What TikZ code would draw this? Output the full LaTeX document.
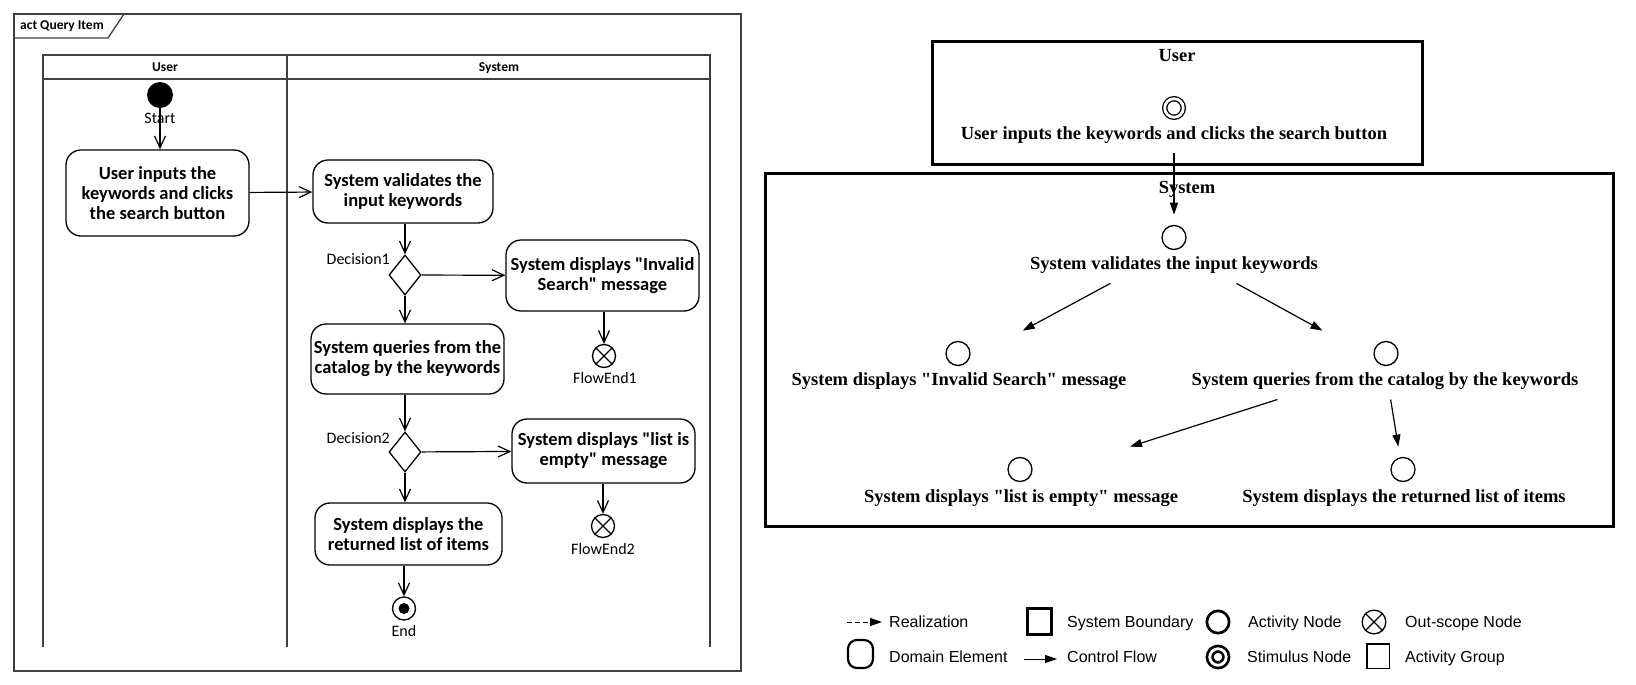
\documentclass[tikz,border=0pt]{standalone}
\usepackage{fontspec}
\usepackage{tikz}
\usetikzlibrary{%
    arrows.meta,%
    shapes.geometric,%
    fit%
}
\newfontfamily\calfont{Carlito}
\newfontfamily\timesfont{Liberation Serif}
\newfontfamily\arialfont{Liberation Sans}
\definecolor{lanegray}{rgb}{0.25,0.25,0.25}

\begin{document}
\begin{tikzpicture}[
  x=1pt, y=-1pt,
  % activity diagram
  lane/.style={draw=lanegray, line width=1.8pt},
  header/.style={font={\calfont\bfseries\fontsize{13.5}{15}\selectfont}, inner sep=0pt, anchor=base},
  action/.style={draw, rounded corners=15pt, line width=1.3pt, align=center,
    font={\calfont\bfseries\fontsize{18.5}{20}\selectfont}, inner sep=0pt},
  tag/.style={font={\calfont\fontsize{16}{18}\selectfont}, inner sep=0pt, anchor=base},
  decision/.style={draw, diamond, line width=1.3pt, minimum width=32pt,
    minimum height=40pt, inner sep=0pt},
  flowend/.style={draw, circle, line width=1.3pt, minimum size=23pt, inner sep=0pt},
  flow/.style={-{Straight Barb[length=12pt,width=11pt]}, line width=1.2pt},
  % activity model
  activity/.style={draw, circle, line width=1.3pt, minimum size=24pt, inner sep=0pt},
  stimulus/.style={activity, minimum size=18.6pt, double, double distance=2.8pt},
  caption/.style={font={\timesfont\bfseries\fontsize{18.5}{20}\selectfont},
    inner sep=0pt, anchor=base},
  group/.style={inner sep=10pt},
  boundary/.style={draw, line width=3pt},
  ctrl/.style={-{Triangle[length=12pt,width=8pt]}, line width=1.2pt},
  % legend
  legend/.style={font={\arialfont\fontsize{16}{18}\selectfont}, inner sep=0pt,
    anchor=base west},
  ]
  \useasboundingbox (0,0) rectangle (1636,685);

  % Frame
  \draw[lane] (14,14) rectangle (741,671);
  \draw[lane, line width=1.3pt] (14,38) -- (108,38) -- (124,14);
  \node[header, anchor=base west] (title) at (20,29.5) {act Query Item};
  % Swimlanes
  \draw[lane] (43,647) -- (43,55) -- (710,55) -- (710,647);
  \draw[lane] (43,79) -- (710,79);
  \draw[lane] (287,55) -- (287,647);
  \node[header] (hu) at (165,71) {User};
  \node[header] (hs) at (499,71) {System};

  % Actions
  \node[circle, fill, minimum size=26pt, inner sep=0pt] (start) at (160,95) {};
  \node[tag] (lstart) at (160,123) {Start};
  \node[action, minimum width=183pt, minimum height=86pt] (a1) at (157.5,193)
    {User inputs the\\keywords and clicks\\the search button};
  \node[action, minimum width=180pt, minimum height=63pt] (a2) at (403,191.5)
    {System validates the\\input keywords};
  \node[decision] (d1) at (405,275) {};
  \node[tag, anchor=base east] (ld1) at (390,264) {Decision1};
  \node[action, minimum width=193pt, minimum height=71pt] (a3) at (602.5,275.5)
    {System displays "Invalid\\Search" message};
  \node[flowend] (fe1) at (604,356) {};
  \node[tag] (lfe1) at (605,383) {FlowEnd1};
  \node[action, minimum width=193pt, minimum height=70pt] (a4) at (407.5,359)
    {System queries from the\\catalog by the keywords};
  \node[decision] (d2) at (405,452) {};
  \node[tag, anchor=base east] (ld2) at (390,443) {Decision2};
  \node[action, minimum width=183pt, minimum height=64pt] (a5) at (603.5,451)
    {System displays "list is\\empty" message};
  \node[flowend] (fe2) at (603,526) {};
  \node[tag] (lfe2) at (603,554) {FlowEnd2};
  \node[action, minimum width=187pt, minimum height=62pt] (a6) at (408.5,534)
    {System displays the\\returned list of items};
  \node[flowend] (end) at (404,608.5) {};
  \fill (end) circle (5.5pt);
  \node[tag] (lend) at (404,636) {End};
  \foreach \fe in {fe1, fe2} {
    \draw[line width=1.3pt] (\fe.north west) -- (\fe.south east)
      (\fe.north east) -- (\fe.south west);
  }

  % Flows
  \draw[flow] (start) -- (start |- a1.north);
  \draw[flow] (a1) -- (a2);
  \draw[flow] (a2.south -| d1) -- (d1);
  \draw[flow] (d1) -- (a3);
  \draw[flow] (a3.south -| fe1) -- (fe1);
  \draw[flow] (d1.south) -- (d1.south |- a4.north);
  \draw[flow] (a4.south -| d2) -- (d2);
  \draw[flow] (d2) -- (a5);
  \draw[flow] (a5.south -| fe2) -- (fe2);
  \draw[flow] (d2.south) -- (d2.south |- a6.north);
  \draw[flow] (a6.south -| end) -- (end);

  % Activity groups
  \draw[boundary] (932,42) rectangle (1422,164);
  \draw[boundary] (765,173) rectangle (1613,526);
  \node[caption] (lu) at (1177,62) {User};
  \node[caption] (ls) at (1187,193) {System};

  % Activity nodes
  \node[stimulus] (uc) at (1174,108) {};
  \node[caption] (ut) at (1174,139) {User inputs the keywords and clicks the search button};
  \node[activity] (vc) at (1174,237.5) {};
  \node[caption] (vt) at (1174,269) {System validates the input keywords};
  \node[activity] (ic) at (958,353.5) {};
  \node[caption] (it) at (959,385) {System displays "Invalid Search" message};
  \node[activity] (qc) at (1386,353.5) {};
  \node[caption] (qt) at (1385,385) {System queries from the catalog by the keywords};
  \node[activity] (ec) at (1020,469.5) {};
  \node[caption] (et) at (1021,502) {System displays "list is empty" message};
  \node[activity] (rc) at (1403,469.5) {};
  \node[caption] (rt) at (1404,502) {System displays the returned list of items};
  \foreach \g/\c/\t in {gu/uc/ut, gv/vc/vt, gi/ic/it, gq/qc/qt, ge/ec/et, gr/rc/rt} {
    \node[group, fit=(\c)(\t)] (\g) {};
  }

  % Control flows
  \draw[ctrl] (gu) -- (gv);
  \draw[ctrl] (gv) -- (gi);
  \draw[ctrl] (gv) -- (gq);
  \draw[ctrl] (gq) -- (ge);
  \draw[ctrl] (gq) -- (gr);

  % Legend
  \coordinate (krz) at (847,622);
  \node[legend] (lrz) at (889,627.5) {Realization};
  \draw[ctrl, line width=1pt, dash pattern=on 5pt off 3pt, shorten >=7pt] (krz) -- (krz -| lrz.west);
  \node[draw, line width=3pt, minimum width=24pt, minimum height=26pt, inner sep=0pt]
    (ksb) at (1039.5,621.5) {};
  \node[legend] (lsb) at (1067,627.5) {System Boundary};
  \node[activity, line width=2.7pt, minimum size=22.3pt] (kan) at (1218,622) {};
  \node[legend] (lan) at (1248,627.5) {Activity Node};
  \node[activity, minimum size=23.7pt] (kos) at (1374,622) {};
  \draw[line width=1.3pt] (kos.north west) -- (kos.south east)
    (kos.north east) -- (kos.south west);
  \node[legend] (los) at (1405,627.5) {Out-scope Node};
  \node[draw, line width=2.2pt, rounded corners=9pt, minimum width=25pt,
    minimum height=28pt, inner sep=0pt] (kde) at (860.5,654) {};
  \node[legend] (lde) at (889,662.5) {Domain Element};
  \node[legend] (lcf) at (1067,662.5) {Control Flow};
  \coordinate (kcf) at (1024,659);
  \draw[ctrl, line width=1pt, shorten >=10pt] (kcf) -- (kcf -| lcf.west);
  \node[activity, line width=2.7pt, minimum size=16.5pt, double, double distance=2.8pt]
    (ksn) at (1218,657) {};
  \node[legend] (lsn) at (1247,662.5) {Stimulus Node};
  \node[draw, line width=1.5pt, minimum width=22.5pt, minimum height=24.5pt, inner sep=0pt]
    (kag) at (1378,656) {};
  \node[legend] (lag) at (1405,662.5) {Activity Group};
\end{tikzpicture}
\end{document}
